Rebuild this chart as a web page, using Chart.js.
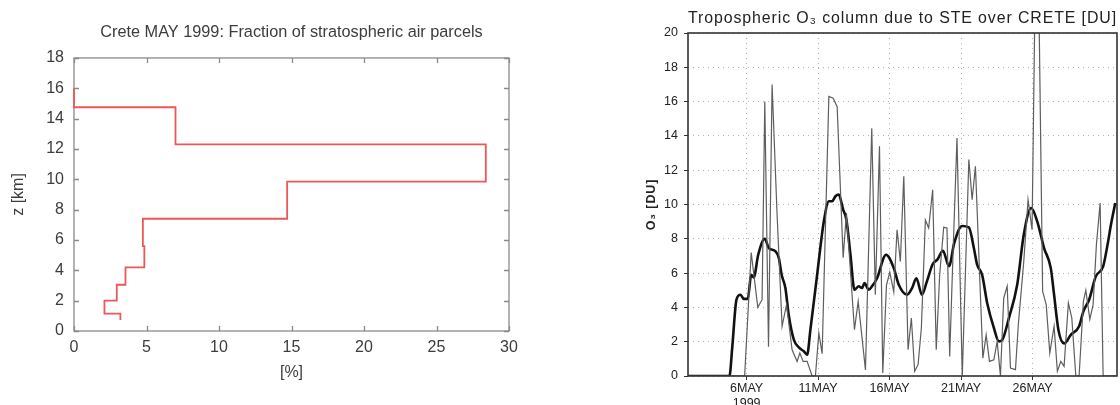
<!DOCTYPE html>
<html>
<head>
<meta charset="utf-8">
<script src="https://cdn.jsdelivr.net/npm/chart.js@4.4.1/dist/chart.umd.min.js"></script>
<style>
  html, body { margin: 0; padding: 0; background: #fff; }
  body { width: 1120px; height: 405px; position: relative; overflow: hidden; }
  .panel { position: absolute; top: 0; width: 560px; height: 405px; }
  #p1 { left: 0; }
  #p2 { left: 560px; }
</style>
</head>
<body>
<div class="panel" id="p1"><canvas id="c1" width="560" height="405"></canvas></div>
<div class="panel" id="p2"><canvas id="c2" width="560" height="405"></canvas></div>
<script>
// ---------- Left panel data: stratospheric fraction profile ----------
const leftTitle = 'Crete MAY 1999: Fraction of stratospheric air parcels';
const layerBoundsKm = [0.73, 1.15, 2.0, 3.05, 4.2, 5.6, 7.4, 9.85, 12.3, 14.75, 16.0];
const layerFraction = [3.2, 2.1, 2.95, 3.55, 4.85, 4.75, 14.7, 28.4, 7.0, 0.0];

// ---------- Right panel data: tropospheric O3 column due to STE ----------
const rightTitle = 'Tropospheric O\u2083 column due to STE over CRETE [DU]';
const tickDays = [6, 11, 16, 21, 26];
const tickLabels = [['6MAY', '1999'], '11MAY', '16MAY', '21MAY', '26MAY'];

const rawDay = [1.9, 5.86, 6.32, 6.78, 7.08, 7.27, 7.53, 7.78, 8.13, 8.48, 8.79, 9.18, 9.53, 9.72, 9.95,
  10.23, 10.58, 10.81, 11.05, 11.28, 11.75, 12.05, 12.33, 12.75, 12.98, 13.54, 13.8, 14.31, 14.75,
  15.0, 15.29, 15.52, 15.78, 16.01, 16.29, 16.52, 16.75, 16.99, 17.29, 17.52, 17.75, 17.99, 18.22,
  18.5, 18.73, 19.01, 19.26, 19.5, 19.78, 20.01, 20.2, 20.43, 20.71, 21.08, 21.54, 21.77, 22.0,
  22.52, 22.75, 22.98, 23.29, 23.52, 23.75, 23.98, 24.22, 24.45, 24.8, 25.0, 25.38, 25.68, 25.96,
  26.15, 26.45, 26.7, 26.95, 27.2, 27.5, 27.73, 27.97, 28.2, 28.5, 28.74, 29.02, 29.25, 29.55,
  29.72, 30.0, 30.23, 30.46, 30.72, 30.93, 31.9];
const rawO3 = [0, 0, 7.2, 4.0, 4.45, 16.0, 1.7, 17.0, 9.4, 2.9, 4.16, 1.53, 0.85, 1.34, 0.85,
  0.85, 0, 0, 2.5, 1.3, 16.3, 16.2, 15.7, 6.9, 9.5, 2.7, 4.35, 0.35, 14.45,
  4.74, 13.4, 0.17, 5.3, 6.05, 4.9, 8.53, 6.68, 11.64, 1.53, 3.38, 0.27, 0.66, 2.8,
  9.1, 8.63, 10.86, 1.53, 5.9, 8.67, 8.63, 1.14, 7.07, 13.87, 0, 12.62, 10.28, 12.23,
  1.04, 2.4, 0.85, 0.95, 2.02, 0, 4.55, 5.24, 0.46, 0.37, 3.0, 6.68, 10.28, 8.53,
  21, 21, 4.93, 4.16, 1.34, 2.9, 0.27, 0.85, 0.56, 4.26, 3.38, 0, 0, 4.36,
  5.0, 3.3, 4.16, 7.66, 10.09, 0, 0];

const smoothDay = [1.9, 4.8, 4.99, 5.29, 5.57, 5.8, 6.08, 6.32, 6.5, 6.81, 7.27, 7.55, 8.02, 8.25,
  8.45, 8.71, 8.94, 9.3, 9.65, 10.0, 10.23, 10.46, 10.93, 11.4, 11.75, 11.98, 12.21, 12.44, 12.75,
  12.98, 13.26, 13.54, 13.84, 14.07, 14.24, 14.54, 14.77, 15.12, 15.75, 16.29, 16.64, 17.22, 17.57,
  17.87, 18.26, 18.6, 19.0, 19.35, 19.73, 20.15, 20.52, 21.06, 21.54, 21.89, 22.12, 22.47, 22.82,
  23.29, 23.64, 23.87, 24.34, 24.92, 25.38, 25.9, 26.32, 26.8, 27.27, 27.5, 27.8, 28.2, 28.67,
  29.25, 29.55, 29.95, 30.42, 30.93, 31.24, 31.48, 31.78];
const smoothO3 = [0, 0, 1.63, 4.45, 4.74, 4.5, 4.5, 5.9, 5.75, 7.07, 8.0, 7.46, 7.27, 6.88,
  5.9, 5.13, 3.57, 2.12, 1.67, 1.44, 1.24, 2.7, 5.9, 9.02, 10.19, 10.19, 10.48, 10.58, 9.7,
  9.1, 7.07, 5.03, 5.23, 5.13, 5.42, 5.03, 5.23, 5.7, 7.07, 6.29, 5.32, 4.74, 5.13,
  5.7, 4.74, 5.5, 6.5, 6.8, 7.3, 6.4, 7.76, 8.75, 8.67, 7.46, 6.49, 5.9, 4.26,
  2.8, 2.02, 2.1, 3.38, 5.32, 8.24, 9.8, 9.02, 7.46, 6.29, 4.74, 2.7, 1.9, 2.4,
  2.9, 3.77, 4.45, 5.81, 6.39, 7.66, 8.83, 10.09];

// ---------- Left chart ----------
const leftFont = "'Liberation Sans', Arial, Helvetica, sans-serif";
const leftText = '#3c3c3c';
const profilePts = [];
layerFraction.forEach((f, i) => {
  profilePts.push({x: f, y: layerBoundsKm[i]});
  profilePts.push({x: f, y: layerBoundsKm[i + 1]});
});

const gnuplotFrame = {
  id: 'gnuplotFrame',
  beforeDatasetsDraw(chart) {
    const {ctx, chartArea: a, scales: {x, y}} = chart;
    ctx.save();
    ctx.strokeStyle = '#8a8a8a';
    ctx.lineWidth = 1.3;
    ctx.strokeRect(a.left, a.top, a.right - a.left, a.bottom - a.top);
    ctx.beginPath();
    x.ticks.forEach(t => {
      const px = Math.round(x.getPixelForValue(t.value)) + 0.5;
      ctx.moveTo(px, a.bottom); ctx.lineTo(px, a.bottom - 5);
      ctx.moveTo(px, a.top); ctx.lineTo(px, a.top + 5);
    });
    y.ticks.forEach(t => {
      const py = Math.round(y.getPixelForValue(t.value)) + 0.5;
      ctx.moveTo(a.left, py); ctx.lineTo(a.left + 5, py);
      ctx.moveTo(a.right, py); ctx.lineTo(a.right - 5, py);
    });
    ctx.stroke();
    ctx.restore();
  }
};

new Chart(document.getElementById('c1'), {
  type: 'scatter',
  data: {
    datasets: [{
      data: profilePts,
      showLine: true,
      borderColor: 'rgb(236,88,88)',
      borderWidth: 1.8,
      pointRadius: 0,
      fill: false,
      tension: 0,
      clip: false
    }]
  },
  options: {
    responsive: false,
    animation: false,
    devicePixelRatio: 1,
    layout: {padding: {left: 0, right: 51, top: 0, bottom: 0}},
    plugins: {
      legend: {display: false},
      tooltip: {enabled: false},
      title: {
        display: true, text: leftTitle, fullSize: false,
        color: leftText, font: {family: leftFont, size: 16.3, weight: 'normal'},
        padding: {top: 23, bottom: 15.4}
      }
    },
    scales: {
      x: {
        type: 'linear', min: 0, max: 30,
        ticks: {stepSize: 5, padding: 7, color: leftText, font: {family: leftFont, size: 16}, maxRotation: 0},
        grid: {display: false, drawTicks: false},
        border: {display: false},
        title: {display: true, text: '[%]', color: leftText, font: {family: leftFont, size: 16}, padding: {top: 0, bottom: 23}},
        afterFit: s => { s.height = 74; }
      },
      y: {
        type: 'linear', min: 0, max: 18,
        ticks: {stepSize: 2, padding: 10, color: leftText, font: {family: leftFont, size: 16}},
        grid: {display: false, drawTicks: false},
        border: {display: false},
        title: {display: true, text: 'z [km]', color: leftText, font: {family: leftFont, size: 16}, padding: {top: 9, bottom: 0}},
        afterFit: s => { s.width = 74; }
      }
    }
  },
  plugins: [gnuplotFrame]
});

// ---------- Right chart ----------
const rightFont = "'Liberation Sans', Arial, sans-serif";
const rightText = '#222';

const gradsStyle = {
  id: 'gradsStyle',
  beforeDraw(chart) { chart.ctx.letterSpacing = '0.9px'; },
  beforeDatasetsDraw(chart) { chart.ctx.letterSpacing = '0px'; },
  afterDatasetsDraw(chart) {
    const {ctx, chartArea: a} = chart;
    ctx.save();
    ctx.strokeStyle = '#333';
    ctx.lineWidth = 1.6;
    ctx.strokeRect(a.left, a.top, a.right - a.left, a.bottom - a.top);
    ctx.restore();
  }
};

new Chart(document.getElementById('c2'), {
  type: 'line',
  data: {
    datasets: [
      {
        data: rawDay.map((d, i) => ({x: d, y: rawO3[i]})),
        borderColor: '#5e5e5e', borderWidth: 1.2, pointRadius: 0, tension: 0, fill: false
      },
      {
        data: smoothDay.map((d, i) => ({x: d, y: smoothO3[i]})),
        borderColor: '#111', borderWidth: 2.6, pointRadius: 0, cubicInterpolationMode: 'monotone', fill: false
      }
    ]
  },
  options: {
    responsive: false,
    animation: false,
    devicePixelRatio: 1,
    layout: {padding: {left: 0, right: 3, top: 0, bottom: 0}},
    plugins: {
      legend: {display: false},
      tooltip: {enabled: false},
      title: {
        display: true, text: rightTitle, fullSize: false,
        color: rightText, font: {family: rightFont, size: 16, weight: 'normal'},
        padding: {top: 9.4, bottom: 4.4}
      }
    },
    scales: {
      x: {
        type: 'linear', min: 1.9, max: 31.9,
        afterBuildTicks: s => { s.ticks = tickDays.map(v => ({value: v})); },
        ticks: {
          callback: (v, i) => tickLabels[i],
          autoSkip: false, maxRotation: 0, padding: 1, z: 1,
          color: rightText, font: {family: rightFont, size: 12.5, lineHeight: 1.2}
        },
        grid: {color: '#b0b0b0', lineWidth: 1, drawTicks: true, tickLength: 4, tickColor: '#333', tickWidth: 1},
        border: {display: false, dash: [1, 4]},
        afterFit: s => { s.height = 29; }
      },
      y: {
        type: 'linear', min: 0, max: 20,
        ticks: {stepSize: 2, padding: 6, z: 1, color: rightText, font: {family: rightFont, size: 12.5}},
        grid: {color: '#b0b0b0', lineWidth: 1, drawTicks: true, tickLength: 4, tickColor: '#333', tickWidth: 1},
        border: {display: false, dash: [1, 4]},
        title: {display: true, text: 'O\u2083 [DU]', color: rightText, font: {family: rightFont, size: 12.5, weight: 'bold'}, padding: {top: 84, bottom: 0}},
        afterFit: s => { s.width = 128; }
      }
    }
  },
  plugins: [gradsStyle]
});
</script>
</body>
</html>
